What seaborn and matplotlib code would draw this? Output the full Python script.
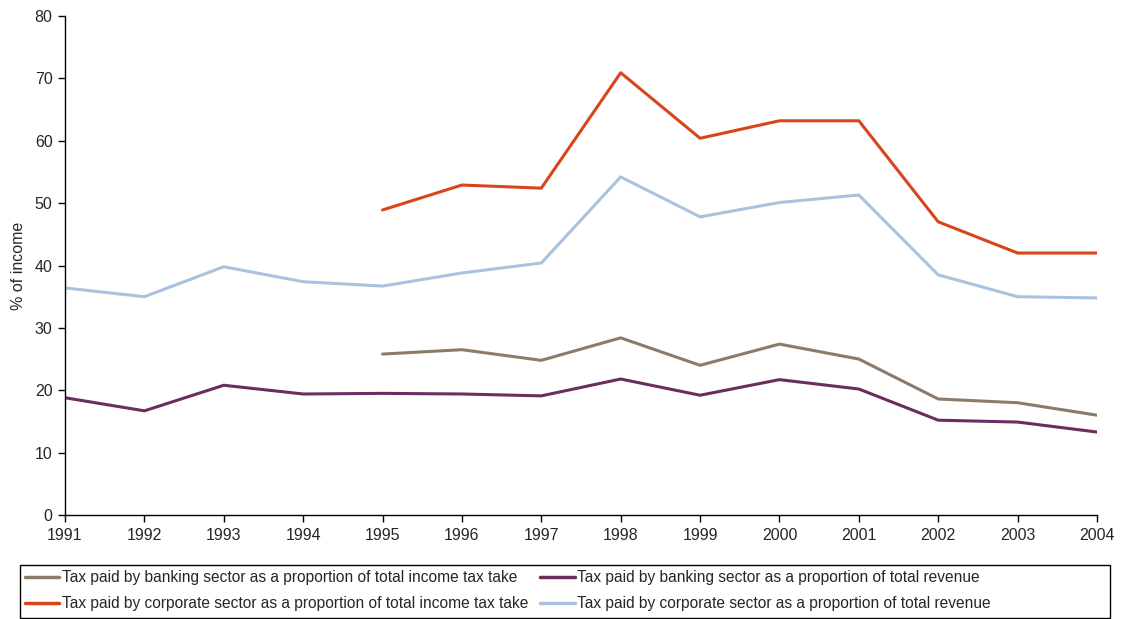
import numpy as np
import pandas as pd
import matplotlib
matplotlib.use("Agg")
import matplotlib.pyplot as plt
from matplotlib.patches import Rectangle
import seaborn as sns

anos = list(range(1991, 2005))

banco_ir = [np.nan, np.nan, np.nan, np.nan, 25.8, 26.5, 24.8, 28.4, 24.0, 27.4, 25.0, 18.6, 18.0, 16.0]
banco_receita = [18.8, 16.7, 20.8, 19.4, 19.5, 19.4, 19.1, 21.8, 19.2, 21.7, 20.2, 15.2, 14.9, 13.3]
corp_ir = [np.nan, np.nan, np.nan, np.nan, 48.9, 52.9, 52.4, 70.9, 60.4, 63.2, 63.2, 47.0, 42.0, 42.0]
corp_receita = [36.4, 35.0, 39.8, 37.4, 36.7, 38.8, 40.4, 54.2, 47.8, 50.1, 51.3, 38.5, 35.0, 34.8]

nomes = [
    "Tax paid by banking sector as a proportion of total income tax take",
    "Tax paid by banking sector as a proportion of total revenue",
    "Tax paid by corporate sector as a proportion of total income tax take",
    "Tax paid by corporate sector as a proportion of total revenue",
]
cores = ["#8C7B6A", "#6A2D5E", "#D9441A", "#A9C3DE"]

series = [banco_ir, banco_receita, corp_ir, corp_receita]
partes = []
for nome, valores in zip(nomes, series):
    partes.append(pd.DataFrame({"Ano": anos, "valor": valores, "serie": nome}))
df = pd.concat(partes).dropna()

sns.set_style("white")
plt.rcParams["font.family"] = ["Liberation Sans", "DejaVu Sans"]

fig = plt.figure(figsize=(11.22, 6.19), dpi=100)
ax = fig.add_axes([65 / 1122, 1 - 515 / 619, (1097 - 65) / 1122, (515 - 16) / 619])

sns.lineplot(data=df, x="Ano", y="valor", hue="serie", hue_order=nomes,
             palette=dict(zip(nomes, cores)), linewidth=2.2, ax=ax, legend=False)

ax.set_xlim(1991, 2004)
ax.set_ylim(0, 80)
ax.set_xticks(anos)
ax.set_yticks(range(0, 81, 10))
ax.set_xlabel("")
ax.set_ylabel("% of income", fontsize=11.5, labelpad=6)
ax.tick_params(axis="both", labelsize=11.5, direction="out", length=5, width=1,
               bottom=True, left=True, color="black", pad=4)
for lado in ["top", "right"]:
    ax.spines[lado].set_visible(False)
for lado in ["left", "bottom"]:
    ax.spines[lado].set_color("black")
    ax.spines[lado].set_linewidth(1)

# caixa da legenda desenhada à parte (a legenda não ocupa a largura toda)
fig.patches.append(Rectangle((20 / 1122, 1 - 618 / 619), 1090 / 1122, 53 / 619,
                             transform=fig.transFigure, fill=False,
                             edgecolor="black", linewidth=1))

# ncol preenche por coluna: reordena para ficar igual ao original
linhas = [plt.Line2D([], [], color=c, linewidth=2.5) for c in cores]
ordem = [0, 2, 1, 3]
leg = fig.legend([linhas[i] for i in ordem], [nomes[i] for i in ordem], ncol=2,
                 loc="upper left", bbox_to_anchor=(22 / 1122, 1 - 567 / 619),
                 fontsize=11.2, frameon=False,
                 handlelength=2.2, handletextpad=0.15, columnspacing=0.8,
                 borderaxespad=0.0, borderpad=0.2, labelspacing=0.7)

fig.savefig("out.png", dpi=100)
